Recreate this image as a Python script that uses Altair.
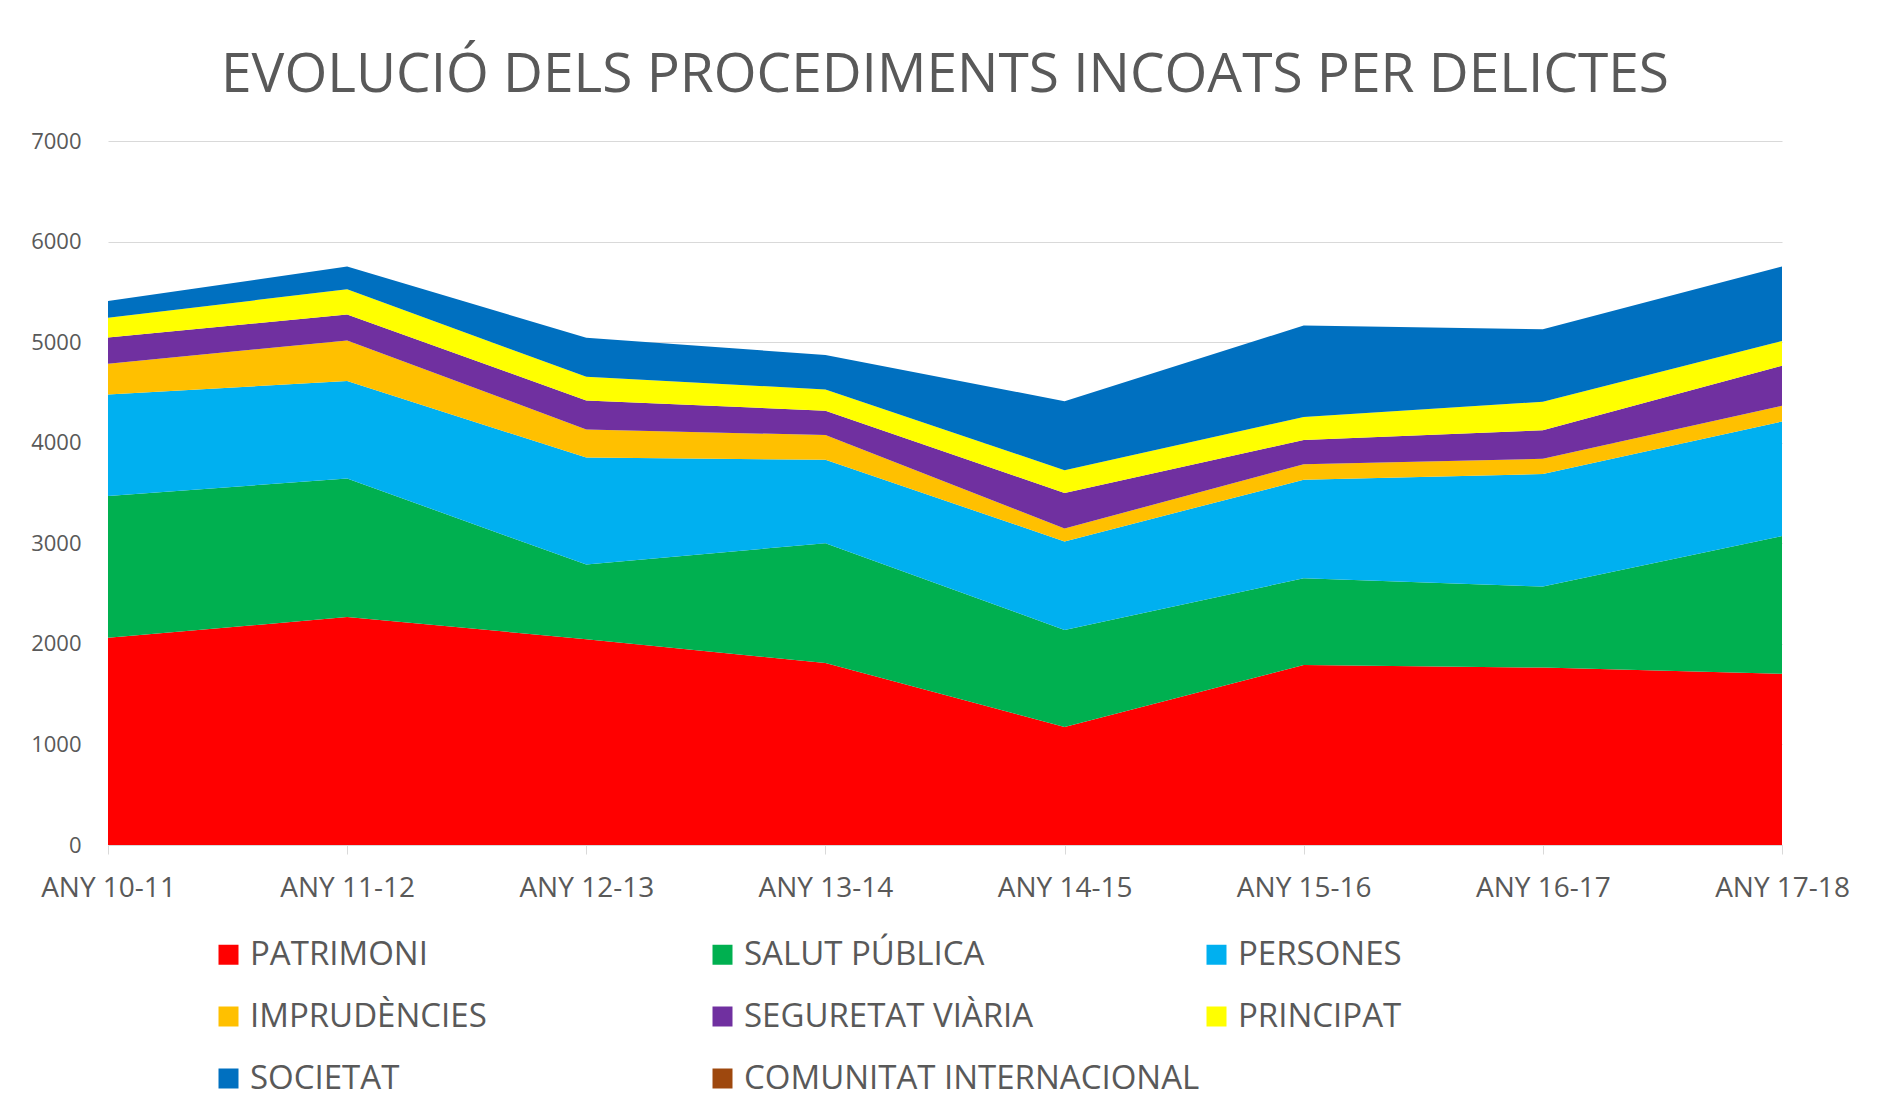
import altair as alt
import pandas as pd

years = ["ANY 10-11", "ANY 11-12", "ANY 12-13", "ANY 13-14",
         "ANY 14-15", "ANY 15-16", "ANY 16-17", "ANY 17-18"]

categories = ["PATRIMONI", "SALUT PÚBLICA", "\u00a0PERSONES", "IMPRUDÈNCIES",
              "SEGURETAT VIÀRIA", "PRINCIPAT", "SOCIETAT", "COMUNITAT INTERNACIONAL"]

colors = ["#FF0000", "#00B050", "#00B0F0", "#FFC000",
          "#7030A0", "#FFFF00", "#0070C0", "#9E480E"]

patrimoni = [2060, 2266, 2047, 1809, 1174, 1790, 1764, 1702]
salut_publica = [1411, 1378, 741, 1192, 965, 862, 806, 1370]
persones = [1008, 969, 1064, 829, 880, 980, 1118, 1139]
imprudencies = [307, 404, 279, 246, 128, 154, 152, 156]
seguretat_viaria = [260, 259, 289, 242, 353, 242, 284, 399]
principat = [196, 250, 235, 212, 227, 227, 284, 246]
societat = [168, 225, 389, 342, 686, 910, 719, 740]
comunitat_internacional = [0, 0, 0, 0, 0, 0, 0, 0]

series = [patrimoni, salut_publica, persones, imprudencies,
          seguretat_viaria, principat, societat, comunitat_internacional]

rows = []
for idx, (cat, vals) in enumerate(zip(categories, series)):
    for yr, v in zip(years, vals):
        rows.append({"year": yr, "category": cat, "value": v, "idx": idx})
df = pd.DataFrame(rows)

FONT = "Open Sans"
GREY = "#595959"

chart = alt.Chart(df).mark_area(interpolate="linear").encode(
    x=alt.X("year:N", sort=years,
            scale=alt.Scale(type="point", padding=0),
            axis=alt.Axis(title=None, labelAngle=0, labelFontSize=28,
                          labelColor=GREY, labelFont=FONT,
                          domainColor="#d9d9d9", tickColor="#d9d9d9",
                          tickSize=9, labelPadding=20, grid=False)),
    y=alt.Y("value:Q", stack="zero",
            scale=alt.Scale(domain=[0, 7000], nice=False),
            axis=alt.Axis(title=None, values=[0, 1000, 2000, 3000, 4000, 5000, 6000, 7000],
                          format="d",
                          labelFontSize=22, labelColor=GREY, labelFont=FONT,
                          ticks=False, domain=False, labelPadding=27,
                          grid=True, gridColor="#d9d9d9", gridWidth=1)),
    color=alt.Color("category:N", sort=categories,
                    scale=alt.Scale(domain=categories, range=colors),
                    legend=alt.Legend(title=None, orient="none", legendX=104, legendY=797,
                                      direction="horizontal",
                                      columns=3, gridAlign="all", columnPadding=0,
                                      rowPadding=28, symbolType="square", symbolSize=400,
                                      symbolStrokeWidth=0, labelFontSize=33, labelFont=FONT,
                                      labelColor=GREY, labelOffset=5, labelLimit=700,
                                      padding=0)),
    order=alt.Order("idx:Q", sort="ascending"),
).properties(
    width=1674,
    height=704,
    title=alt.TitleParams(text="EVOLUCIÓ DELS PROCEDIMENTS INCOATS PER DELICTES",
                          fontSize=55, font=FONT, color=GREY, fontWeight="normal",
                          anchor="middle", baseline="alphabetic", offset=47, dy=64),
    autosize=alt.AutoSizeParams(type="none"),
    padding={"left": 100, "top": 133, "right": 80, "bottom": 262},
).configure(font=FONT).configure_view(strokeWidth=0, stroke="transparent")

chart.save("out.html", embed_options={"renderer": "svg", "actions": False})
